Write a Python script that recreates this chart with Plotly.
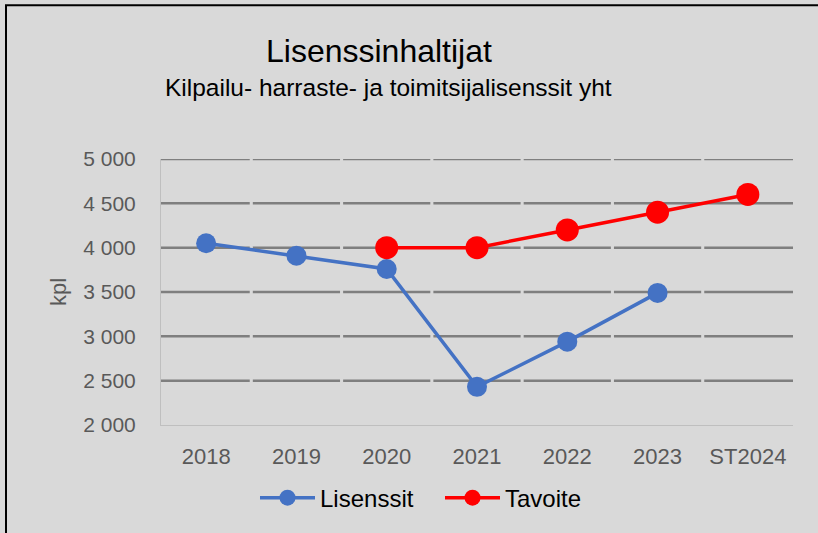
import plotly.graph_objects as go

categories = ["2018", "2019", "2020", "2021", "2022", "2023", "ST2024"]
lisenssit = [4050, 3910, 3760, 2430, 2940, 3490, None]
tavoite = [None, None, 4000, 4000, 4200, 4400, 4600]
y_ticks = [2000, 2500, 3000, 3500, 4000, 4500, 5000]

FONT = "Liberation Sans, Arial, sans-serif"
BG = "#D9D9D9"

fig = go.Figure()
fig.add_trace(go.Scatter(
    x=categories, y=lisenssit, name="Lisenssit", mode="lines+markers",
    line=dict(color="#4472C4", width=3.5),
    marker=dict(color="#4472C4", size=20),
))
fig.add_trace(go.Scatter(
    x=categories, y=tavoite, name="Tavoite", mode="lines+markers",
    line=dict(color="#FF0000", width=3.5),
    marker=dict(color="#FF0000", size=23),
))

# horizontal gridlines drawn per category, leaving small gaps at category boundaries
GAP = 0.017
grid_shapes = [
    dict(type="line", xref="x", yref="y", x0=i - 0.5 + (GAP if i > 0 else 0),
         x1=i + 0.5 - (GAP if i < len(categories) - 1 else 0), y0=v, y1=v,
         layer="below", line=dict(color="#7F7F7F", width=2.5))
    for v in y_ticks[1:] for i in range(len(categories))
]

fig.update_layout(
    width=818, height=533,
    paper_bgcolor=BG, plot_bgcolor=BG,
    margin=dict(l=161, r=25, t=159, b=106),
    separators=", ",
    showlegend=True,
    legend=dict(orientation="h", x=(255 - 161) / 632, xanchor="left", y=-0.19, yanchor="top",
                font=dict(family=FONT, size=24, color="#000000"),
                itemwidth=55, entrywidth=115,
                bgcolor="rgba(0,0,0,0)"),
    xaxis=dict(type="category", range=[-0.5, 6.5], showgrid=False,
               showline=True, linecolor="#BFBFBF", linewidth=1,
               ticks="outside", ticklen=12, tickcolor="rgba(0,0,0,0)",
               tickfont=dict(family=FONT, size=22, color="#595959"),
               zeroline=False),
    yaxis=dict(range=[2000, 5000], tickvals=y_ticks, tickformat=",d",
               showgrid=False,
               showline=True, linecolor="#BFBFBF", linewidth=1,
               ticks="outside", ticklen=20, tickcolor="rgba(0,0,0,0)",
               tickfont=dict(family=FONT, size=21, color="#595959"),
               title=dict(text="kpl", font=dict(family=FONT, size=22, color="#595959"), standoff=10),
               zeroline=False),
    annotations=[
        dict(text="Lisenssinhaltijat", xref="paper", yref="paper", x=(379 - 161) / 632, y=(427 - 50) / 268,
             xanchor="center", yanchor="middle", showarrow=False,
             font=dict(family=FONT, size=32, color="#000000")),
        dict(text="Kilpailu- harraste- ja toimitsijalisenssit yht", xref="paper", yref="paper",
             x=(388 - 161) / 632, y=(427 - 87) / 268, xanchor="center", yanchor="middle", showarrow=False,
             font=dict(family=FONT, size=24.5, color="#000000")),
    ],
    shapes=grid_shapes + [
        dict(type="rect", xref="paper", yref="paper", x0=(6 - 161) / 632, x1=(880 - 161) / 632,
             y0=(427 - 4) / 268, y1=(427 - 600) / 268, line=dict(color="#000000", width=2),
             fillcolor="rgba(0,0,0,0)", layer="above"),
    ],
)

fig.write_html(
    "out.html", config={"displayModeBar": False},
    post_script=("document.body.style.margin='0';"
                 "document.body.style.overflow='hidden';"
                 "document.documentElement.style.overflow='hidden';"),
)
